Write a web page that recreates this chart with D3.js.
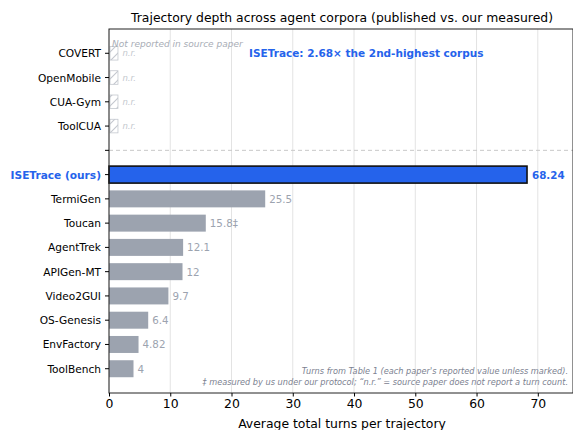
<!DOCTYPE html>
<html>
<head>
<meta charset="utf-8">
<script src="https://cdn.jsdelivr.net/npm/d3@7"></script>
<style>
  body{margin:0;background:#fff;}
  svg text{font-family:"DejaVu Sans",sans-serif;}
</style>
</head>
<body>
<svg id="chart" width="573" height="430"></svg>
<script>
// ── data (top to bottom) ──
const NR_NAMES=["COVERT","OpenMobile","CUA-Gym","ToolCUA"];
const NAMES=["ISETrace (ours)","TermiGen","Toucan","AgentTrek","APIGen-MT","Video2GUI","OS-Genesis","EnvFactory","ToolBench"];
const TURNS=[68.24,25.5,15.8,12.1,12,9.7,6.4,4.82,4];
const LABELS=["68.24","25.5","15.8‡","12.1","12","9.7","6.4","4.82","4"];
const XTICKS=[0,10,20,30,40,50,60,70];

const BLUE="#2563eb",GRAY="#9ca3af",NRC="#c3c7ce";
const svg=d3.select("#chart");
const L=109,R=573,T=29,B=393;
const x=d3.scaleLinear().domain([0,68.24*1.11]).range([L,R]);
// row index: 0..3 n.r., 4 separator, 5.. measured
const y=d3.scaleLinear().domain([-1,14]).range([T,B]);
const step=y(1)-y(0);

// hatch "/" for the n.r. stubs
const pat=svg.append("defs").append("pattern").attr("id","hatch").attr("patternUnits","userSpaceOnUse")
  .attr("width",9).attr("height",9);
pat.append("path").attr("d","M0,9L9,0M-2,2L2,-2M7,11L11,7").attr("stroke",NRC).attr("stroke-width",1.1);

// grid
svg.append("g").selectAll("line").data(XTICKS).join("line")
  .attr("x1",d=>x(d)).attr("x2",d=>x(d)).attr("y1",T).attr("y2",B)
  .attr("stroke","#e3e3e3").attr("stroke-width",1);

// separator
svg.append("line").attr("x1",L).attr("x2",R).attr("y1",y(4)).attr("y2",y(4))
  .attr("stroke","#c8c8c8").attr("stroke-dasharray","4,3").attr("stroke-width",1);

// n.r. hatched stubs
const nr=svg.append("g");
NR_NAMES.forEach((n,i)=>{
  const h=step*0.56;
  nr.append("rect").attr("x",x(0)+1).attr("y",y(i)-h/2).attr("width",x(1.3)-x(0)).attr("height",h)
    .attr("fill","url(#hatch)").attr("stroke",NRC).attr("stroke-width",0.8);
  nr.append("text").attr("x",x(2.2)).attr("y",y(i)+3).attr("font-size",8.5).attr("font-style","italic")
    .attr("fill",NRC).text("n.r.");
});
svg.append("text").attr("x",x(0.5)).attr("y",y(0)-6).attr("font-size",9).attr("font-style","italic")
  .attr("fill","#a8adb6").text("Not reported in source paper");

// bars
const bh=step*0.7;
svg.append("g").selectAll("rect").data(TURNS).join("rect")
  .attr("x",x(0)).attr("y",(d,i)=>y(i+5)-bh/2)
  .attr("width",d=>x(d)-x(0)).attr("height",bh)
  .attr("fill",(d,i)=>i===0?BLUE:GRAY)
  .attr("stroke",(d,i)=>i===0?"#111":"none").attr("stroke-width",1.6);

svg.append("g").selectAll("text").data(TURNS).join("text")
  .attr("x",d=>x(d)+(d>60?5:4)).attr("y",(d,i)=>y(i+5)+4)
  .attr("font-size",10.3).attr("font-weight",(d,i)=>i===0?"bold":"normal")
  .attr("fill",(d,i)=>i===0?BLUE:GRAY).text((d,i)=>LABELS[i]);

// callout
svg.append("text").attr("x",x(42)).attr("y",y(0)+4).attr("text-anchor","middle")
  .attr("font-size",10.5).attr("font-weight","bold").attr("fill",BLUE)
  .text("ISETrace: 2.68× the 2nd-highest corpus");

// footnotes
svg.append("text").attr("x",568).attr("y",374).attr("text-anchor","end").attr("font-size",8.2)
  .attr("font-style","italic").attr("fill","#7b8190").text("Turns from Table 1 (each paper's reported value unless marked).");
svg.append("text").attr("x",568).attr("y",385).attr("text-anchor","end").attr("font-size",8.2)
  .attr("font-style","italic").attr("fill","#7b8190").text("‡ measured by us under our protocol; “n.r.” = source paper does not report a turn count.");

// frame
svg.append("rect").attr("x",L).attr("y",T).attr("width",R-L).attr("height",B-T)
  .attr("fill","none").attr("stroke","#222").attr("stroke-width",1);

// x axis
const xa=svg.append("g").attr("transform",`translate(0,${B})`)
  .call(d3.axisBottom(x).tickValues(XTICKS).tickSize(3.5).tickPadding(3));
xa.select(".domain").remove();
xa.selectAll("text").attr("font-size",12.4).attr("fill","#000");
xa.selectAll("line").attr("stroke","#000");

// y ticks & labels
const ALL=[...NR_NAMES,"",...NAMES];
const yg=svg.append("g");
ALL.forEach((n,i)=>{
  yg.append("line").attr("x1",L-4).attr("x2",L).attr("y1",y(i)).attr("y2",y(i)).attr("stroke","#000");
  if(!n)return;
  yg.append("text").attr("x",L-8).attr("y",y(i)+4).attr("text-anchor","end")
    .attr("font-size",10.6).attr("font-weight",i===5?"bold":"normal")
    .attr("fill",i===5?BLUE:"#000").text(n);
});

// title & axis label
svg.append("text").attr("x",342).attr("y",22).attr("text-anchor","middle")
  .attr("font-size",12.4).attr("fill","#000").text("Trajectory depth across agent corpora (published vs. our measured)");
svg.append("text").attr("x",342).attr("y",428).attr("text-anchor","middle")
  .attr("font-size",12.4).attr("fill","#000").text("Average total turns per trajectory");
</script>
</body>
</html>
